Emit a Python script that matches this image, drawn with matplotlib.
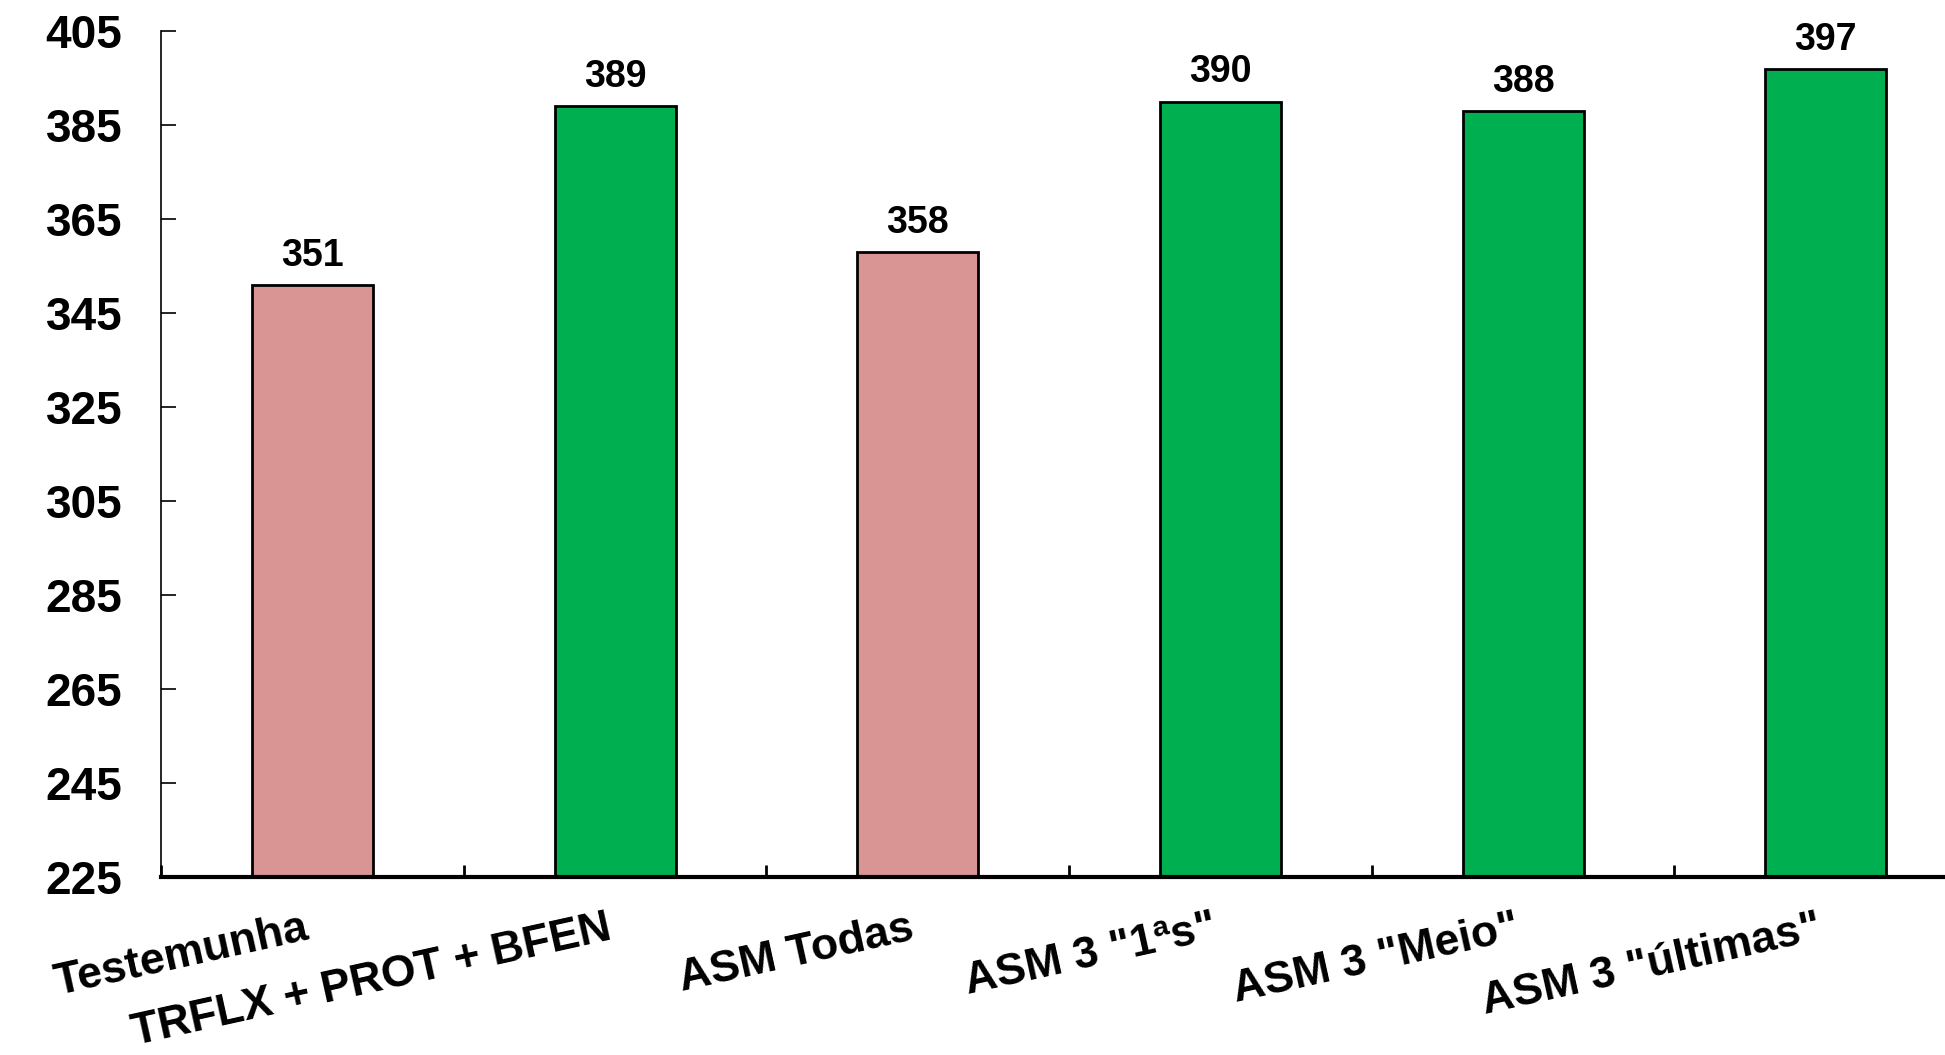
import matplotlib
matplotlib.use("Agg")
import matplotlib.pyplot as plt
import matplotlib.transforms as mtransforms
import numpy as np

# data
categories = ["Testemunha", "TRFLX + PROT + BFEN", "ASM Todas",
              'ASM 3 "1ªs"', 'ASM 3 "Meio"', 'ASM 3 "últimas"']
values = [351, 389, 358, 390, 388, 397]
yticks = [225, 245, 265, 285, 305, 325, 345, 365, 385, 405]

# styling
pink = "#D99594"
green = "#00B050"
bar_colors = [pink, green, pink, green, green, green]

plt.rcParams['font.family'] = ['Liberation Sans', 'DejaVu Sans']
plt.rcParams['font.weight'] = 'bold'

fig = plt.figure(figsize=(19.45, 10.55), dpi=100)
# axes runs slightly past the right edge of the picture, as in the reference
ax = fig.add_axes([0.0828, 0.1687, 1.0165 - 0.0828, 0.9706 - 0.1687])

x = np.arange(len(categories))
bars = ax.bar(x, values, width=0.4, color=bar_colors,
              edgecolor="black", linewidth=2, zorder=2)

for xi, v in zip(x, values):
    ax.annotate(str(v), (xi, v), xytext=(0, 8), textcoords="offset points",
                ha="center", va="bottom", fontsize=27, fontweight="bold")

ax.set_ylim(225, 405)
ax.set_xlim(-0.5, len(categories) - 0.5)
ax.set_yticks(yticks)
ax.set_yticklabels([str(t) for t in yticks], fontsize=33, fontweight="bold")
ax.tick_params(axis="y", direction="in", length=11, width=1.2, pad=28)

# labels at bar centres, tick marks at category boundaries
ax.set_xticks(x)
ax.set_xticklabels(categories, fontsize=32, fontweight="bold",
                   rotation=12.5, ha="right", rotation_mode="anchor")
ax.tick_params(axis="x", which="major", length=0, pad=22)
ax.set_xticks(np.arange(-0.5, len(categories)), minor=True)
ax.tick_params(axis="x", which="minor", direction="in", length=9, width=2)

shift = mtransforms.ScaledTranslation(-9 / 100, 0, fig.dpi_scale_trans)
for lbl in ax.get_xticklabels():
    lbl.set_transform(lbl.get_transform() + shift)

ax.spines["top"].set_visible(False)
ax.spines["right"].set_visible(False)
ax.spines["left"].set_linewidth(1.2)
ax.spines["bottom"].set_linewidth(3)

fig.savefig("out.png", dpi=100, facecolor="white")
